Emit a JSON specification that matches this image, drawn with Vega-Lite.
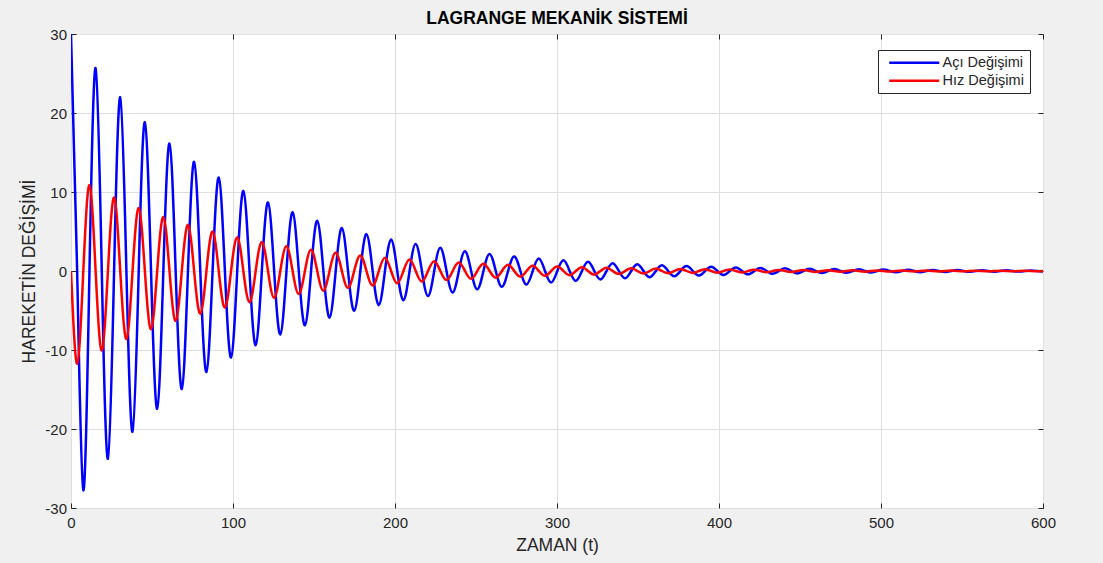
{
  "$schema": "https://vega.github.io/schema/vega-lite/v6.json",
  "width": 972,
  "height": 474,
  "autosize": {"type": "none"},
  "padding": {"left": 71, "top": 34, "right": 60, "bottom": 55},
  "background": "#f0f0f0",
  "title": {"text": "LAGRANGE MEKANİK SİSTEMİ", "font": "Liberation Sans", "fontSize": 17.5, "fontWeight": "bold", "color": "#000000", "offset": 0, "anchor": "middle"},
  "config": {
    "view": {"fill": "white", "stroke": "#262626", "strokeWidth": 1},
    "axis": {
      "grid": true, "gridColor": "#dfdfdf", "gridWidth": 1,
      "domain": false, "labelFlush": false,
      "tickColor": "#262626", "tickSize": -5, "tickWidth": 1,
      "labelFont": "Liberation Sans", "labelFontSize": 15, "labelColor": "#262626",
      "titleFont": "Liberation Sans", "titleFontSize": 17.5, "titleFontWeight": "normal", "titleColor": "#262626"
    }
  },
  "data": {"values": [
    {"t": 0, "aci": 30, "hiz": 0},
    {"t": 3.8, "aci": 0, "hiz": -11.736},
    {"t": 7.6, "aci": -27.762, "hiz": 0},
    {"t": 11.4, "aci": 0, "hiz": 10.861},
    {"t": 15.2, "aci": 25.692, "hiz": 0},
    {"t": 19, "aci": 0, "hiz": -10.051},
    {"t": 22.8, "aci": -23.775, "hiz": 0},
    {"t": 26.6, "aci": 0, "hiz": 9.301},
    {"t": 30.4, "aci": 22.002, "hiz": 0},
    {"t": 34.2, "aci": 0, "hiz": -8.607},
    {"t": 38, "aci": -20.361, "hiz": 0},
    {"t": 41.8, "aci": 0, "hiz": 7.965},
    {"t": 45.6, "aci": 18.842, "hiz": 0},
    {"t": 49.4, "aci": 0, "hiz": -7.371},
    {"t": 53.2, "aci": -17.437, "hiz": 0},
    {"t": 57, "aci": 0, "hiz": 6.821},
    {"t": 60.8, "aci": 16.136, "hiz": 0},
    {"t": 64.6, "aci": 0, "hiz": -6.313},
    {"t": 68.4, "aci": -14.933, "hiz": 0},
    {"t": 72.2, "aci": 0, "hiz": 5.842},
    {"t": 76, "aci": 13.819, "hiz": 0},
    {"t": 79.8, "aci": 0, "hiz": -5.406},
    {"t": 83.6, "aci": -12.788, "hiz": 0},
    {"t": 87.4, "aci": 0, "hiz": 5.003},
    {"t": 91.2, "aci": 11.834, "hiz": 0},
    {"t": 95, "aci": 0, "hiz": -4.63},
    {"t": 98.8, "aci": -10.952, "hiz": 0},
    {"t": 102.6, "aci": 0, "hiz": 4.284},
    {"t": 106.4, "aci": 10.135, "hiz": 0},
    {"t": 110.2, "aci": 0, "hiz": -3.965},
    {"t": 114, "aci": -9.379, "hiz": 0},
    {"t": 117.8, "aci": 0, "hiz": 3.669},
    {"t": 121.6, "aci": 8.68, "hiz": 0},
    {"t": 125.4, "aci": 0, "hiz": -3.396},
    {"t": 129.2, "aci": -8.032, "hiz": 0},
    {"t": 133, "aci": 0, "hiz": 3.142},
    {"t": 136.8, "aci": 7.433, "hiz": 0},
    {"t": 140.6, "aci": 0, "hiz": -2.908},
    {"t": 144.4, "aci": -6.879, "hiz": 0},
    {"t": 148.2, "aci": 0, "hiz": 2.691},
    {"t": 152, "aci": 6.366, "hiz": 0},
    {"t": 155.8, "aci": 0, "hiz": -2.49},
    {"t": 159.6, "aci": -5.891, "hiz": 0},
    {"t": 163.4, "aci": 0, "hiz": 2.305},
    {"t": 167.2, "aci": 5.452, "hiz": 0},
    {"t": 171, "aci": 0, "hiz": -2.133},
    {"t": 174.8, "aci": -5.045, "hiz": 0},
    {"t": 178.6, "aci": 0, "hiz": 1.974},
    {"t": 182.4, "aci": 4.669, "hiz": 0},
    {"t": 186.2, "aci": 0, "hiz": -1.827},
    {"t": 190, "aci": -4.321, "hiz": 0},
    {"t": 193.8, "aci": 0, "hiz": 1.69},
    {"t": 197.6, "aci": 3.998, "hiz": 0},
    {"t": 201.4, "aci": 0, "hiz": -1.564},
    {"t": 205.2, "aci": -3.7, "hiz": 0},
    {"t": 209, "aci": 0, "hiz": 1.447},
    {"t": 212.8, "aci": 3.424, "hiz": 0},
    {"t": 216.6, "aci": 0, "hiz": -1.339},
    {"t": 220.4, "aci": -3.169, "hiz": 0},
    {"t": 224.2, "aci": 0, "hiz": 1.24},
    {"t": 228, "aci": 2.933, "hiz": 0},
    {"t": 231.8, "aci": 0, "hiz": -1.147},
    {"t": 235.6, "aci": -2.714, "hiz": 0},
    {"t": 239.4, "aci": 0, "hiz": 1.062},
    {"t": 243.2, "aci": 2.511, "hiz": 0},
    {"t": 247, "aci": 0, "hiz": -0.982},
    {"t": 250.8, "aci": -2.324, "hiz": 0},
    {"t": 254.6, "aci": 0, "hiz": 0.909},
    {"t": 258.4, "aci": 2.151, "hiz": 0},
    {"t": 262.2, "aci": 0, "hiz": -0.841},
    {"t": 266, "aci": -1.99, "hiz": 0},
    {"t": 269.8, "aci": 0, "hiz": 0.779},
    {"t": 273.6, "aci": 1.842, "hiz": 0},
    {"t": 277.4, "aci": 0, "hiz": -0.721},
    {"t": 281.2, "aci": -1.705, "hiz": 0},
    {"t": 285, "aci": 0, "hiz": 0.667},
    {"t": 288.8, "aci": 1.577, "hiz": 0},
    {"t": 292.6, "aci": 0, "hiz": -0.617},
    {"t": 296.4, "aci": -1.46, "hiz": 0},
    {"t": 300.2, "aci": 0, "hiz": 0.571},
    {"t": 304, "aci": 1.351, "hiz": 0},
    {"t": 307.8, "aci": 0, "hiz": -0.529},
    {"t": 311.6, "aci": -1.25, "hiz": 0},
    {"t": 315.4, "aci": 0, "hiz": 0.489},
    {"t": 319.2, "aci": 1.157, "hiz": 0},
    {"t": 323, "aci": 0, "hiz": -0.453},
    {"t": 326.8, "aci": -1.071, "hiz": 0},
    {"t": 330.6, "aci": 0, "hiz": 0.419},
    {"t": 334.4, "aci": 0.991, "hiz": 0},
    {"t": 338.2, "aci": 0, "hiz": -0.388},
    {"t": 342, "aci": -0.917, "hiz": 0},
    {"t": 345.8, "aci": 0, "hiz": 0.359},
    {"t": 349.6, "aci": 0.848, "hiz": 0},
    {"t": 353.4, "aci": 0, "hiz": -0.332},
    {"t": 357.2, "aci": -0.785, "hiz": 0},
    {"t": 361, "aci": 0, "hiz": 0.307},
    {"t": 364.8, "aci": 0.727, "hiz": 0},
    {"t": 368.6, "aci": 0, "hiz": -0.284},
    {"t": 372.4, "aci": -0.672, "hiz": 0},
    {"t": 376.2, "aci": 0, "hiz": 0.263},
    {"t": 380, "aci": 0.622, "hiz": 0},
    {"t": 383.8, "aci": 0, "hiz": -0.243},
    {"t": 387.6, "aci": -0.576, "hiz": 0},
    {"t": 391.4, "aci": 0, "hiz": 0.225},
    {"t": 395.2, "aci": 0.533, "hiz": 0},
    {"t": 399, "aci": 0, "hiz": -0.209},
    {"t": 402.8, "aci": -0.493, "hiz": 0},
    {"t": 406.6, "aci": 0, "hiz": 0.193},
    {"t": 410.4, "aci": 0.456, "hiz": 0},
    {"t": 414.2, "aci": 0, "hiz": -0.179},
    {"t": 418, "aci": -0.422, "hiz": 0},
    {"t": 421.8, "aci": 0, "hiz": 0.165},
    {"t": 425.6, "aci": 0.391, "hiz": 0},
    {"t": 429.4, "aci": 0, "hiz": -0.153},
    {"t": 433.2, "aci": -0.362, "hiz": 0},
    {"t": 437, "aci": 0, "hiz": 0.142},
    {"t": 440.8, "aci": 0.335, "hiz": 0},
    {"t": 444.6, "aci": 0, "hiz": -0.131},
    {"t": 448.4, "aci": -0.31, "hiz": 0},
    {"t": 452.2, "aci": 0, "hiz": 0.121},
    {"t": 456, "aci": 0.287, "hiz": 0},
    {"t": 459.8, "aci": 0, "hiz": -0.112},
    {"t": 463.6, "aci": -0.265, "hiz": 0},
    {"t": 467.4, "aci": 0, "hiz": 0.104},
    {"t": 471.2, "aci": 0.245, "hiz": 0},
    {"t": 475, "aci": 0, "hiz": -0.096},
    {"t": 478.8, "aci": -0.227, "hiz": 0},
    {"t": 482.6, "aci": 0, "hiz": 0.089},
    {"t": 486.4, "aci": 0.21, "hiz": 0},
    {"t": 490.2, "aci": 0, "hiz": -0.082},
    {"t": 494, "aci": -0.194, "hiz": 0},
    {"t": 497.8, "aci": 0, "hiz": 0.076},
    {"t": 501.6, "aci": 0.18, "hiz": 0},
    {"t": 505.4, "aci": 0, "hiz": -0.07},
    {"t": 509.2, "aci": -0.167, "hiz": 0},
    {"t": 513, "aci": 0, "hiz": 0.065},
    {"t": 516.8, "aci": 0.154, "hiz": 0},
    {"t": 520.6, "aci": 0, "hiz": -0.06},
    {"t": 524.4, "aci": -0.143, "hiz": 0},
    {"t": 528.2, "aci": 0, "hiz": 0.056},
    {"t": 532, "aci": 0.132, "hiz": 0},
    {"t": 535.8, "aci": 0, "hiz": -0.052},
    {"t": 539.6, "aci": -0.122, "hiz": 0},
    {"t": 543.4, "aci": 0, "hiz": 0.048},
    {"t": 547.2, "aci": 0.113, "hiz": 0},
    {"t": 551, "aci": 0, "hiz": -0.044},
    {"t": 554.8, "aci": -0.105, "hiz": 0},
    {"t": 558.6, "aci": 0, "hiz": 0.041},
    {"t": 562.4, "aci": 0.097, "hiz": 0},
    {"t": 566.2, "aci": 0, "hiz": -0.038},
    {"t": 570, "aci": -0.09, "hiz": 0},
    {"t": 573.8, "aci": 0, "hiz": 0.035},
    {"t": 577.6, "aci": 0.083, "hiz": 0},
    {"t": 581.4, "aci": 0, "hiz": -0.033},
    {"t": 585.2, "aci": -0.077, "hiz": 0},
    {"t": 589, "aci": 0, "hiz": 0.03},
    {"t": 592.8, "aci": 0.071, "hiz": 0},
    {"t": 596.6, "aci": 0, "hiz": -0.028},
    {"t": 600, "aci": -0.065, "hiz": -0.004}
  ]},
  "transform": [{"fold": ["aci", "hiz"], "as": ["seri", "deger"]}],
  "layer": [
    {
      "mark": {"type": "line", "interpolate": "natural", "strokeWidth": 2.5, "clip": true},
      "encoding": {
        "x": {"field": "t", "type": "quantitative", "scale": {"domain": [0, 600], "nice": false, "zero": false},
          "axis": {"orient": "bottom", "values": [0, 100, 200, 300, 400, 500, 600], "labelPadding": 12.5, "title": "ZAMAN (t)", "titlePadding": 6}},
        "y": {"field": "deger", "type": "quantitative", "scale": {"domain": [-30, 30], "nice": false},
          "axis": {"orient": "left", "values": [-30, -20, -10, 0, 10, 20, 30], "labelPadding": 9.5, "labelExpr": "replace(datum.label, '−', '-')", "title": "HAREKETİN DEĞİŞİMİ", "titlePadding": 6}},
        "color": {"field": "seri", "type": "nominal",
          "scale": {"domain": ["aci", "hiz"], "range": ["#0000ff", "#ff0000"]},
          "legend": {"orient": "none", "legendX": 807, "legendY": 16, "title": null,
            "labelExpr": "datum.value == 'aci' ? 'Açı Değişimi' : 'Hız Değişimi'",
            "symbolType": "M-0.3,0H9.7", "symbolSize": 100, "symbolStrokeWidth": 2.5,
            "labelOffset": 44.5, "labelFont": "Liberation Sans", "labelFontSize": 14.5, "labelColor": "#262626",
            "fillColor": "white", "strokeColor": "#262626", "padding": 5.5, "rowPadding": 3}}
      }
    },
    {
      "mark": {"type": "line", "opacity": 0, "strokeOpacity": 0},
      "encoding": {
        "x": {"field": "t", "type": "quantitative",
          "axis": {"orient": "top", "values": [0, 100, 200, 300, 400, 500, 600], "labels": false, "grid": false, "title": null}},
        "y": {"field": "deger", "type": "quantitative",
          "axis": {"orient": "right", "values": [-30, -20, -10, 0, 10, 20, 30], "labels": false, "grid": false, "title": null}}
      }
    }
  ],
  "resolve": {"axis": {"x": "independent", "y": "independent"}}
}
